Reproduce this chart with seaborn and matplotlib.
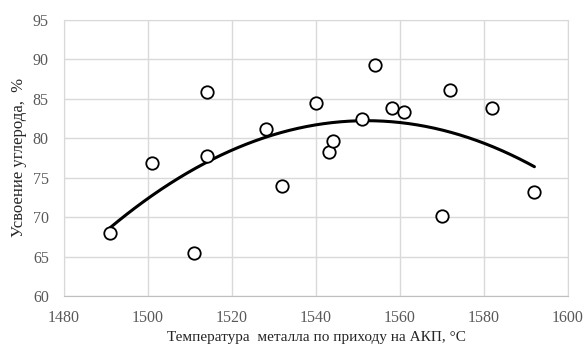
import numpy as np
import pandas as pd
import matplotlib
matplotlib.use("Agg")
import matplotlib.pyplot as plt
import seaborn as sns

# температура металла, °C
temp = [1491, 1501, 1511, 1514, 1514, 1528, 1532, 1540, 1543, 1544,
        1551, 1554, 1558, 1561, 1570, 1572, 1582, 1592]
# усвоение углерода, %
carbon = [68.0, 76.8, 65.4, 85.8, 77.8, 81.2, 74.0, 84.4, 78.3, 79.7,
          82.4, 89.3, 83.8, 83.3, 70.2, 86.1, 83.8, 73.2]

xticks = [1480, 1500, 1520, 1540, 1560, 1580, 1600]
yticks = [60, 65, 70, 75, 80, 85, 90, 95]

df = pd.DataFrame({"t": temp, "c": carbon})

sns.set_style("whitegrid", {"grid.color": "#d9d9d9", "axes.edgecolor": "#d9d9d9"})
plt.rcParams["font.family"] = ["Liberation Serif", "DejaVu Serif"]

fig, ax = plt.subplots(figsize=(5.88, 3.49), dpi=100)

# полиномиальный тренд 2-й степени
coef = np.polyfit(df.t, df.c, 2)
xs = np.linspace(min(temp), max(temp), 200)
ax.plot(xs, np.polyval(coef, xs), color="black", lw=2.2, zorder=2)

sns.scatterplot(data=df, x="t", y="c", ax=ax, marker="o", s=80,
                facecolor="white", edgecolor="black", linewidth=1.3, zorder=3)

ax.set_xlim(1480, 1600)
ax.set_ylim(60, 95)
ax.set_xticks(xticks)
ax.set_yticks(yticks)
ax.tick_params(axis="both", length=0, labelsize=11.5, labelcolor="#595959")
ax.tick_params(axis="x", pad=10)
ax.tick_params(axis="y", pad=11)
ax.set_xlabel("Температура  металла по приходу на АКП, °C", fontsize=11, labelpad=4)
ax.set_ylabel("Усвоение углерода,  %", fontsize=12, labelpad=4)
for s in ax.spines.values():
    s.set_color("#d9d9d9")
ax.spines["bottom"].set_color("#bfbfbf")
ax.grid(True, color="#d9d9d9", lw=1)

fig.subplots_adjust(left=0.109, right=0.966, top=0.943, bottom=0.152)
fig.savefig("out.png", dpi=100)
